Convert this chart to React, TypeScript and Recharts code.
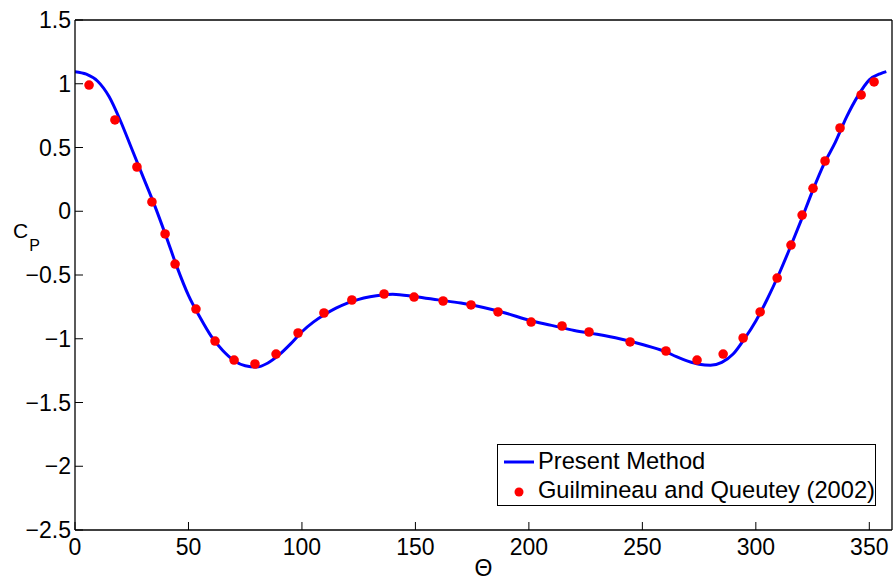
import React from "react";
import {
  ComposedChart,
  Line,
  Scatter,
  XAxis,
  YAxis,
  Legend,
} from "recharts";

// present method curve (theta in degrees, Cp)
const curveTheta = [
  0, 5, 10, 15, 20, 25, 30, 35, 40, 45, 50, 55, 60, 65, 70, 75, 80, 85, 90, 95,
  100, 105, 110, 115, 120, 130, 140, 150, 160, 170, 180, 190, 200, 210, 220,
  230, 240, 250, 260, 265, 270, 275, 280, 285, 290, 295, 300, 305, 310, 315,
  320, 325, 330, 335, 340, 345, 350, 355, 357.5,
];
const curveCp = [
  1.095, 1.075, 1.02, 0.9, 0.71, 0.49, 0.27, 0.05, -0.19, -0.44, -0.66, -0.83,
  -0.98, -1.09, -1.17, -1.212, -1.222, -1.19, -1.125, -1.04, -0.945, -0.87,
  -0.81, -0.76, -0.72, -0.67, -0.65, -0.67, -0.695, -0.72, -0.755, -0.8,
  -0.855, -0.895, -0.935, -0.965, -1.0, -1.045, -1.1, -1.14, -1.175, -1.2,
  -1.208, -1.185, -1.12, -1.0, -0.86, -0.69, -0.5, -0.29, -0.07, 0.16, 0.37,
  0.54, 0.74, 0.905, 1.03, 1.08, 1.095,
];

// Guilmineau and Queutey (2002)
const dotTheta = [
  6.2, 17.6, 27.3, 33.9, 39.7, 44.1, 53.3, 61.7, 70.1, 79.3, 88.6, 98.3, 109.7,
  122, 136.2, 149.4, 162.2, 174.5, 186.4, 201, 214.6, 226.5, 244.6, 260.4,
  274.1, 285.6, 294.4, 301.9, 309.4, 315.5, 320.4, 325.2, 330.5, 337.1, 346.4,
  352.1,
];
const dotCp = [
  0.99, 0.716, 0.347, 0.073, -0.178, -0.414, -0.767, -1.018, -1.167, -1.198,
  -1.12, -0.955, -0.798, -0.696, -0.649, -0.673, -0.704, -0.735, -0.79, -0.869,
  -0.9, -0.947, -1.025, -1.096, -1.167, -1.12, -0.994, -0.79, -0.524, -0.265,
  -0.03, 0.18, 0.394, 0.653, 0.912, 1.014,
];

const xTicks = [0, 50, 100, 150, 200, 250, 300, 350];
const yTicks = [-2.5, -2, -1.5, -1, -0.5, 0, 0.5, 1, 1.5];

const curveData = curveTheta.map((t, i) => ({ theta: t, cp: curveCp[i] }));
const dotData = dotTheta.map((t, i) => ({ theta: t, cp: dotCp[i] }));

const FONT = "'Liberation Sans', Arial, Helvetica, sans-serif";
const FS = 23;
const TICK = 8;

const fmtY = (v: number) => (v < 0 ? "\u2212" + String(-v) : String(v));

const BottomTick = (p: any) => (
  <g>
    <line x1={p.x} x2={p.x} y1={p.y} y2={p.y - TICK} stroke="#000" />
    <text x={p.x} y={p.y + 25} textAnchor="middle" fontSize={FS} fontFamily={FONT} fill="#000">
      {p.payload.value}
    </text>
  </g>
);
const TopTick = (p: any) => (
  <line x1={p.x} x2={p.x} y1={p.y} y2={p.y + TICK} stroke="#000" />
);
const LeftTick = (p: any) => (
  <g>
    <line x1={p.x} x2={p.x + TICK} y1={p.y} y2={p.y} stroke="#000" />
    <text x={p.x - 4} y={p.y + 8} textAnchor="end" fontSize={FS} fontFamily={FONT} fill="#000">
      {fmtY(p.payload.value)}
    </text>
  </g>
);
const RightTick = (p: any) => (
  <line x1={p.x} x2={p.x - TICK} y1={p.y} y2={p.y} stroke="#000" />
);

const LegendBox = () => (
  <div
    style={{
      border: "1px solid #000",
      background: "#fff",
      width: 377,
      height: 60,
      fontFamily: FONT,
      fontSize: 23.7,
      color: "#000",
      boxSizing: "content-box",
      whiteSpace: "nowrap",
    }}
  >
    <div style={{ display: "flex", alignItems: "center", height: 30, marginTop: 1 }}>
      <svg width={40} height={30}>
        <line x1={6} x2={36} y1={16} y2={16} stroke="#0000ff" strokeWidth={3} />
      </svg>
      <span>Present Method</span>
    </div>
    <div style={{ display: "flex", alignItems: "center", height: 29 }}>
      <svg width={40} height={29}>
        <circle cx={21} cy={16} r={4.5} fill="#ff0000" />
      </svg>
      <span>Guilmineau and Queutey (2002)</span>
    </div>
  </div>
);

export default function App() {
  return (
    <div style={{ position: "absolute", left: 0, top: 0, background: "#fff", fontFamily: FONT }}>
      <ComposedChart width={893} height={581} margin={{ top: 19, right: 0, bottom: 50, left: 0 }}>
        <XAxis
          xAxisId={0}
          dataKey="theta"
          type="number"
          domain={[0, 360]}
          ticks={xTicks}
          allowDataOverflow
          height={1}
          tickSize={0}
          tickMargin={0}
          tickLine={false}
          tick={BottomTick}
          axisLine={{ stroke: "#000", strokeWidth: 1.3 }}
          label={{
            content: (props: any) => {
              const vb = props.viewBox;
              return (
                <text x={vb.x + vb.width / 2} y={vb.y + 46} textAnchor="middle" fontSize={FS} fontFamily={FONT} fill="#000">
                  Θ
                </text>
              );
            },
          }}
        />
        <XAxis
          xAxisId="top"
          orientation="top"
          type="number"
          domain={[0, 360]}
          ticks={xTicks}
          height={1}
          tickSize={0}
          tickMargin={0}
          tickLine={false}
          tick={TopTick}
          axisLine={{ stroke: "#000", strokeWidth: 1.3 }}
        />
        <YAxis
          yAxisId={0}
          type="number"
          domain={[-2.5, 1.5]}
          ticks={yTicks}
          width={75}
          tickSize={0}
          tickMargin={0}
          tickLine={false}
          tick={LeftTick}
          axisLine={{ stroke: "#000", strokeWidth: 1.3 }}
          label={{
            content: () => (
              <text x={13} y={238} fontSize={21} fontFamily={FONT} fill="#000">
                C
                <tspan dy={13} dx={1} fontSize={16}>P</tspan>
              </text>
            ),
          }}
        />
        <YAxis
          yAxisId="right"
          orientation="right"
          type="number"
          domain={[-2.5, 1.5]}
          ticks={yTicks}
          width={1}
          tickSize={0}
          tickMargin={0}
          tickLine={false}
          tick={RightTick}
          axisLine={{ stroke: "#000", strokeWidth: 1.3 }}
        />
        <Legend
          layout="horizontal"
          verticalAlign="middle"
          align="center"
          content={<LegendBox />}
          wrapperStyle={{ left: 497, top: 444, width: "auto", height: "auto" }}
        />
        <Line
          data={curveData}
          dataKey="cp"
          type="monotone"
          stroke="#0000ff"
          strokeWidth={3}
          dot={false}
          activeDot={false}
          name="Present Method"
          isAnimationActive={false}
        />
        <Scatter
          data={dotData}
          dataKey="cp"
          fill="#ff0000"
          name="Guilmineau and Queutey (2002)"
          shape={(p: any) => <circle cx={p.cx} cy={p.cy} r={4.8} fill="#ff0000" />}
          isAnimationActive={false}
        />
      </ComposedChart>
    </div>
  );
}
